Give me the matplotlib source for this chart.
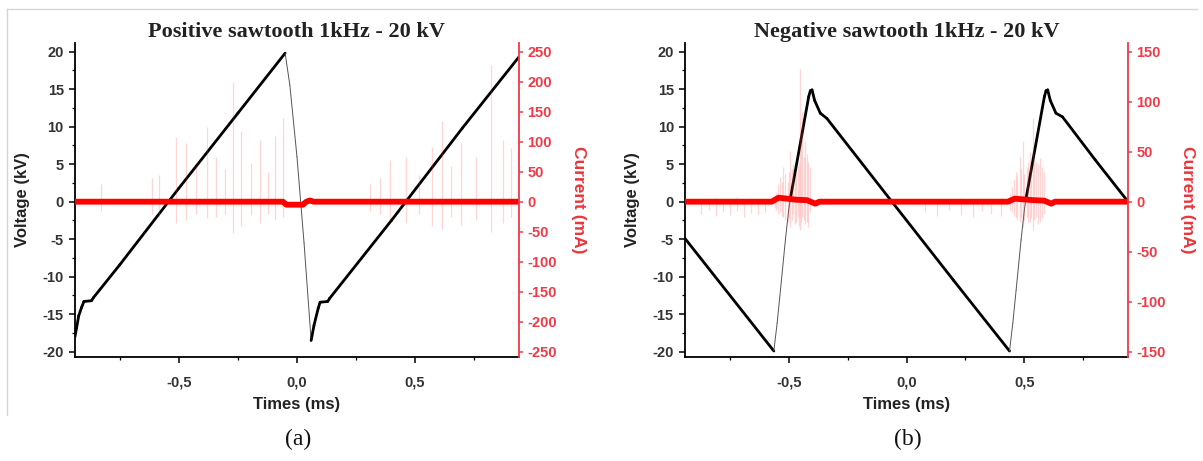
import matplotlib
matplotlib.use("Agg")
import matplotlib.pyplot as plt
import numpy as np
from matplotlib.collections import LineCollection
from matplotlib.ticker import FuncFormatter, MultipleLocator

plt.rcParams['font.family'] = ['Liberation Sans', 'DejaVu Sans']
plt.rcParams['axes.unicode_minus'] = False

# --- (a) positive sawtooth: voltage (kV) vs time (ms)
a_volt_t = [-0.940, -0.933, -0.924, -0.912, -0.902, -0.870, -0.862, -0.750, -0.500,
            -0.250, -0.050, -0.030, 0.000, 0.030, 0.060, 0.072, 0.090, 0.098, 0.130,
            0.138, 0.400, 0.700, 0.940]
a_volt_v = [-18.0, -16.8, -15.2, -14.1, -13.3, -13.2, -12.8, -8.4, 1.8,
            11.8, 19.8, 15.5, 6.0, -5.5, -18.5, -16.5, -14.2, -13.4, -13.3,
            -12.9, -2.5, 9.8, 19.3]

# (a) current (mA): base trace and discharge spikes
a_base_t = [-0.940, -0.060, -0.045, 0.025, 0.040, 0.055, 0.070, 0.940]
a_base_v = [0.0, 0.0, -5.0, -5.0, 0.0, 2.0, 0.0, 0.0]
a_spike_t = [-0.830, -0.614, -0.583, -0.512, -0.469, -0.426, -0.379, -0.342, -0.306,
             -0.272, -0.235, -0.193, -0.157, -0.123, -0.094, -0.061,
             0.310, 0.353, 0.396, 0.460, 0.515, 0.573, 0.616, 0.651, 0.694,
             0.757, 0.821, 0.871, 0.906]
a_spike_hi = [30, 39, 45, 107, 97, 60, 124, 74, 55,
              200, 118, 65, 103, 50, 110, 140,
              30, 40, 69, 74, 45, 91, 135, 60, 97,
              74, 228, 102, 90]
a_spike_lo = [-15, -20, -25, -35, -30, -20, -28, -25, -20,
              -52, -40, -22, -35, -20, -30, -25,
              -15, -20, -30, -35, -20, -40, -45, -25, -38,
              -30, -50, -35, -25]

# --- (b) negative sawtooth
b_volt_t = [-0.940, -0.563, -0.549, -0.535, -0.514, -0.500, -0.493, -0.415, -0.408,
            -0.401, -0.390, -0.366, -0.338, -0.062, 0.200, 0.437, 0.451, 0.465,
            0.486, 0.500, 0.507, 0.585, 0.592, 0.599, 0.610, 0.634, 0.662, 0.800, 0.940]
b_volt_v = [-4.9, -19.9, -16.2, -11.8, -5.1, -1.1, 0.4, 14.0, 14.8,
            14.9, 13.5, 11.8, 11.1, 0.0, -10.5, -19.9, -16.2, -11.8,
            -5.1, -1.1, 0.4, 14.0, 14.8, 14.9, 13.5, 11.8, 11.3, 5.6, 0.0]

b_base_t = [-0.940, -0.572, -0.543, -0.470, -0.422, -0.387, -0.370, 0.430, 0.459,
            0.540, 0.585, 0.614, 0.630, 0.940]
b_base_v = [0.0, 0.0, 4.0, 2.0, 1.5, -2.0, 0.0, 0.0, 3.0,
            1.5, 1.0, -2.0, 0.0, 0.0]
b_spike_t = [-0.873, -0.840, -0.810, -0.780, -0.750, -0.720, -0.690, -0.660, -0.630, -0.600,
             -0.558, -0.552, -0.544, -0.535, -0.528, -0.522, -0.514, -0.505, -0.499,
             -0.493, -0.486, -0.480, -0.474, -0.467, -0.460, -0.455, -0.450, -0.446,
             -0.442, -0.436, -0.429, -0.422, -0.416, -0.408,
             0.080, 0.130, 0.180, 0.230, 0.280, 0.320, 0.360, 0.400,
             0.440, 0.446, 0.455, 0.463, 0.470, 0.480, 0.487, 0.493, 0.500, 0.510,
             0.516, 0.522, 0.529, 0.535, 0.541, 0.548, 0.556, 0.565, 0.573, 0.582]
b_spike_hi = [3, 2, 4, 3, 2, 5, 3, 4, 2, 3,
              6, 10, 18, 25, 20, 35, 28, 20, 30,
              51, 33, 38, 26, 30, 36, 40, 133, 70,
              90, 45, 61, 48, 40, 35,
              2, 3, 2, 4, 3, 2, 3, 4,
              8, 15, 22, 30, 26, 45, 33, 61, 28, 35,
              40, 50, 36, 84, 42, 40, 38, 44, 35, 30]
b_spike_lo = [-12, -8, -14, -10, -13, -9, -15, -11, -12, -10,
              -6, -8, -12, -10, -14, -15, -18, -20, -16,
              -25, -18, -12, -22, -20, -15, -24, -28, -20,
              -15, -18, -22, -20, -25, -10,
              -10, -14, -8, -13, -15, -9, -12, -14,
              -8, -10, -14, -15, -18, -20, -16, -25, -18, -15,
              -20, -20, -16, -28, -18, -15, -22, -20, -16, -12]

AX_RED = '#ee3b48'
SPIKE = (1.0, 0.25, 0.25, 0.22)


def voltage_line(ax, t, v):
    # fast transitions were sampled sparsely -> drawn thin
    pts = np.column_stack([t, v])
    segs = np.stack([pts[:-1], pts[1:]], axis=1)
    slope = np.abs(np.diff(v) / np.diff(t))
    widths = np.where(slope > 180, 0.7, 2.0)
    colors = ['#555555' if s > 180 else 'black' for s in slope]
    lc = LineCollection(segs, linewidths=widths, colors=colors, capstyle='round',
                        joinstyle='round')
    ax.add_collection(lc)


def panel(rect, title, vt, vv, bt, bv, st, shi, slo, cmax, cstep, tag):
    ax = fig.add_axes(rect)
    voltage_line(ax, vt, vv)
    ax.set_xlim(-0.94, 0.94)
    ax.set_ylim(-20.7, 21.15)
    ax.xaxis.set_major_locator(MultipleLocator(0.5))
    ax.xaxis.set_minor_locator(MultipleLocator(0.25))
    ax.yaxis.set_major_locator(MultipleLocator(5))
    ax.yaxis.set_minor_locator(MultipleLocator(2.5))
    ax.xaxis.set_major_formatter(FuncFormatter(lambda x, p: f'{x:.1f}'.replace('.', ',')))
    for side in ('top', 'right'):
        ax.spines[side].set_visible(False)
    for side in ('left', 'bottom'):
        ax.spines[side].set_linewidth(1.3)
    ax.tick_params(which='major', direction='out', length=4, width=1.1, labelsize=10.5)
    ax.tick_params(which='minor', direction='out', length=2.5, width=0.9)
    ax.tick_params(axis='x', pad=9)
    ax.tick_params(axis='y', pad=4)
    for lab in ax.get_xticklabels() + ax.get_yticklabels():
        lab.set_fontweight('bold')
        lab.set_color('#333333')
    ax.set_ylabel('Voltage (kV)', fontsize=12, fontweight='bold', color='#222222')
    ax.yaxis.set_label_coords(-0.101, 0.5)
    ax.set_xlabel('Times (ms)', fontsize=12, fontweight='bold', color='#222222')
    ax.xaxis.set_label_coords(0.5, -0.127)
    ax.set_title(title, fontsize=16, fontweight='bold', family='Liberation Serif',
                 color='#222222', pad=4)

    ax2 = ax.twinx()
    ax2.patch.set_visible(False)
    scale = cmax / 20.0
    ax2.set_ylim(-20.7 * scale, 21.15 * scale)
    ax2.yaxis.set_major_locator(MultipleLocator(cstep))
    ax2.vlines(st, slo, shi, color=SPIKE, lw=0.9)
    ax2.plot(bt, bv, color='red', lw=4.2, solid_capstyle='butt')
    for side in ('top', 'left', 'bottom'):
        ax2.spines[side].set_visible(False)
    ax2.spines['right'].set_color(AX_RED)
    ax2.spines['right'].set_linewidth(1.3)
    ax2.tick_params(axis='y', direction='out', length=3, width=1.1, colors=AX_RED,
                    labelsize=10.5, pad=3)
    for lab in ax2.get_yticklabels():
        lab.set_fontweight('bold')
    ax2.set_ylabel('Current (mA)', fontsize=12.5, fontweight='bold', color='#e8363c',
                   rotation=270)
    ax2.yaxis.set_label_coords(1.15, 0.5)

    cx = rect[0] + rect[2] / 2
    fig.text(cx + 0.001, 0.046, tag, ha='center', va='center', fontsize=17,
             family='Liberation Serif', color='#111111')
    return ax, ax2


fig = plt.figure(figsize=(12.03, 4.61), dpi=100)

panel([0.0623, 0.2256, 0.3691, 0.6811], 'Positive sawtooth 1kHz - 20 kV',
      a_volt_t, a_volt_v, a_base_t, a_base_v, a_spike_t, a_spike_hi, a_spike_lo,
      250, 50, '(a)')
panel([0.5694, 0.2256, 0.3683, 0.6811], 'Negative sawtooth 1kHz - 20 kV',
      b_volt_t, b_volt_v, b_base_t, b_base_v, b_spike_t, b_spike_hi, b_spike_lo,
      150, 50, '(b)')

# light frame on the top and left edges
fig.add_artist(plt.Line2D([0.0058, 0.995], [0.980, 0.980], color='#d6d6d6', lw=1.0))
fig.add_artist(plt.Line2D([0.0058, 0.0058], [0.980, 0.100], color='#d6d6d6', lw=1.0))

fig.savefig('out.png', dpi=100)
